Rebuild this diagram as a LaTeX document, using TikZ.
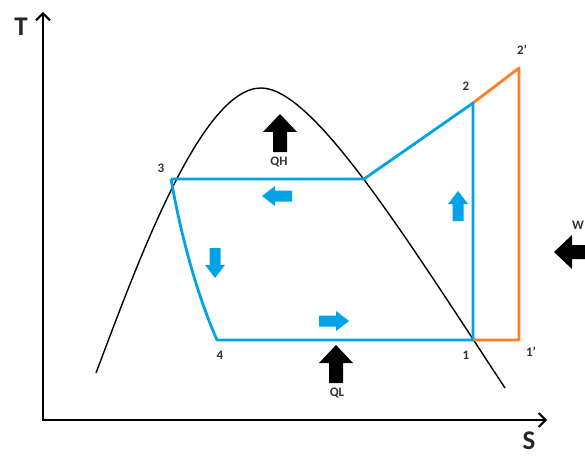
\documentclass[tikz,border=0pt]{standalone}
\usepackage{fontspec}
\setmainfont{Carlito}
\usetikzlibrary{arrows.meta}
\definecolor{cblue}{RGB}{0,162,232}
\definecolor{corange}{RGB}{255,127,39}
\begin{document}
\begin{tikzpicture}[x=1pt,y=-1pt,
  axis/.style={line width=2.4pt,-{Straight Barb[length=7pt,width=14pt,line width=2pt]}},
  dome/.style={line width=1.4pt,black},
  cyc/.style={line width=2.8pt,cblue,line join=round},
  sup/.style={line width=2.8pt,corange,line join=round},
  axlabel/.style={font=\fontsize{27}{27}\selectfont\bfseries,text=black!85,inner sep=0pt},
  num/.style={font=\fontsize{13}{13}\selectfont\bfseries,text=black!80},
  qlab/.style={font=\fontsize{13}{13}\selectfont\bfseries,text=black!80},
  pics/bigarrow/.style={code={\fill (-19,-7) -- (1,-7) -- (1,-17) -- (19,0) -- (1,17) -- (1,7) -- (-19,7) -- cycle;}},
  pics/smallarrow/.style={code={\fill (-15,-5.5) -- (2,-5.5) -- (2,-10) -- (15,0) -- (2,10) -- (2,5.5) -- (-15,5.5) -- cycle;}}
]
\useasboundingbox (0,0) rectangle (585,457);
\fill[white] (0,0) rectangle (585,457);
% axes
\coordinate (O) at (43,420);
\coordinate (Ttop) at (43,12);
\coordinate (Send) at (547,420);
\draw[axis] (O) -- (Ttop);
\draw[axis] ([xshift=-1.2pt]O) -- (Send);
\node[axlabel] (T) at (21,27) {T};
\node[axlabel] (S) at (529,441) {S};
% dome
\coordinate (d0) at (96,373);
\coordinate (peak) at (261,88);
\coordinate (d1) at (505,388);
\draw[dome] (d0) .. controls (135,270) and (200,88) .. (peak) .. controls (312,88) and (400,228) .. (d1);
% state points
\coordinate (p3) at (171,179);
\coordinate (pv) at (364,179);
\coordinate (p2) at (473,103);
\coordinate (p1) at (473,340);
\coordinate (p4) at (217,340);
\coordinate (p2p) at (519,68);
\coordinate (p1p) at (519,340);
% orange superheat
\draw[sup] (p2) -- (p2p) -- (p1p) -- (p1);
% blue cycle
\draw[cyc] (p3) -- (pv) -- (p2) -- (p1) -- (p4) .. controls (195,290) and (180,230) .. (p3);
% labels
\node[num] (l3) at (161,168) {3};
\node[num] (l2) at (466,86) {2};
\node[num] (l2p) at (522,50) {2'};
\node[num] (l4) at (220,355) {4};
\node[num] (l1) at (466,355) {1};
\node[num] (l1p) at (531,352) {1'};
% blue direction arrows
\pic[color=cblue,rotate=180] (aleft) at (277,196) {smallarrow};
\pic[color=cblue,rotate=270] (adown) at (215,263) {smallarrow};
\pic[color=cblue,rotate=90] (aup) at (458,206) {smallarrow};
\pic[color=cblue] (aright) at (334,321) {smallarrow};
% heat / work arrows
\pic[color=black,rotate=90] (qh) at (280,133) {bigarrow};
\node[qlab] (QH) at (279,162) {QH};
\pic[color=black,rotate=90] (ql) at (336,364) {bigarrow};
\node[qlab] (QL) at (337,393) {QL};
\pic[color=black,rotate=180] (w) at (573,252) {bigarrow};
\node[qlab,inner sep=0pt] (W) at (578,225) {W};
\end{tikzpicture}
\end{document}
